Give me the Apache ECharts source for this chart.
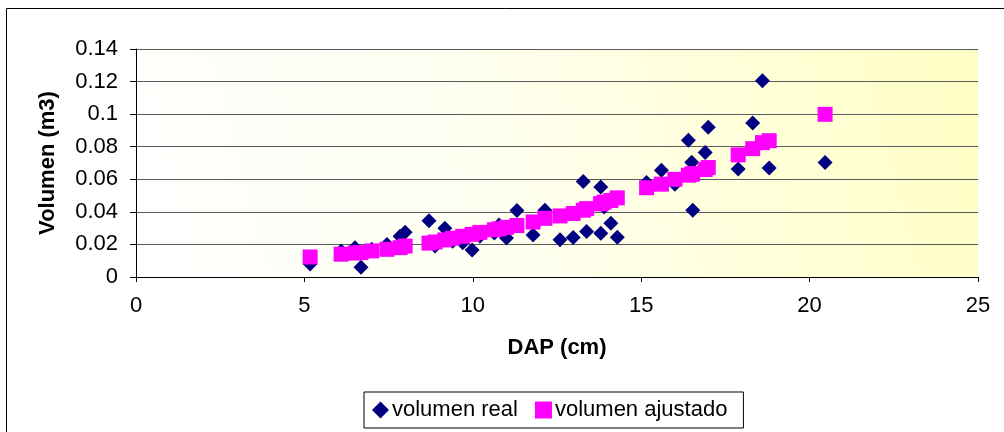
<!DOCTYPE html>
<html>
<head>
<meta charset="utf-8">
<script src="https://cdn.jsdelivr.net/npm/echarts@6/dist/echarts.min.js"></script>
<style>
  html, body { margin: 0; padding: 0; background: #fff; }
  #chart { width: 1004px; height: 432px; }
</style>
</head>
<body>
<div id="chart"></div>
<script>
// Diámetro a la altura del pecho (cm) de cada árbol medido
const dap = [
  5.17, 6.09, 6.50, 6.68, 7.00, 7.45, 7.84, 7.99,
  8.70, 8.88, 9.17, 9.40, 9.70, 9.98, 10.21, 10.64, 10.78, 11.00, 11.31, 11.79,
  12.14, 12.59, 12.98, 13.28, 13.38, 13.80, 13.80, 13.90, 14.10, 14.29,
  15.16, 15.60, 16.00, 16.40, 16.50, 16.53, 16.90, 16.99,
  17.88, 18.31, 18.60, 18.80, 20.46
];
// Volumen medido (m3)
const volumenReal = [
  0.008, 0.016, 0.018, 0.006, 0.017, 0.020, 0.025, 0.0275,
  0.0345, 0.019, 0.030, 0.022, 0.021, 0.0166, 0.025, 0.027, 0.032, 0.024, 0.0408, 0.0258,
  0.041, 0.0228, 0.0242, 0.0586, 0.0279, 0.0552, 0.0269, 0.043, 0.033, 0.0244,
  0.058, 0.0655, 0.057, 0.084, 0.0705, 0.041, 0.0765, 0.092,
  0.0663, 0.0946, 0.1205, 0.0669, 0.0703
];
// Volumen estimado por el modelo (m3)
const volumenAjustado = [
  0.0123, 0.0140, 0.0147, 0.0150, 0.0160, 0.0170, 0.0180, 0.0190,
  0.0208, 0.0215, 0.0228, 0.0238, 0.0250, 0.0262, 0.0274, 0.0290, 0.0296, 0.0305, 0.0316, 0.0338,
  0.0360, 0.0375, 0.0390, 0.0410, 0.0420, 0.0450, 0.0450, 0.0460, 0.0470, 0.0486,
  0.0548, 0.0570, 0.0600, 0.0625, 0.0630, 0.0635, 0.0660, 0.0672,
  0.0750, 0.0788, 0.0825, 0.0837, 0.0999
];
const xTicks = { min: 0, max: 25, step: 5 };
const yTicks = { min: 0, max: 0.14, step: 0.02 };

const realData = dap.map((d, i) => [d, volumenReal[i]]);
const ajusteData = dap.map((d, i) => [d, volumenAjustado[i]]);

const FONT = 'Arial, "Liberation Sans", sans-serif';
const chart = echarts.init(document.getElementById('chart'), null, { renderer: 'canvas' });

chart.setOption({
  backgroundColor: '#ffffff',
  animation: false,
  graphic: [{
    type: 'rect',
    silent: true,
    z: -10,
    shape: { x: 6.5, y: 8.5, width: 1200, height: 1000 },
    style: { fill: 'none', stroke: '#000000', lineWidth: 1 }
  }],
  grid: {
    left: 136, right: 26, top: 49, bottom: 155,
    show: true,
    borderWidth: 0,
    backgroundColor: new echarts.graphic.LinearGradient(0, 1, 1, 0, [
      { offset: 0, color: '#ffffff' },
      { offset: 0.4, color: '#fffff2' },
      { offset: 1, color: '#ffffc4' }
    ])
  },
  legend: {
    left: 364, top: 392,
    orient: 'horizontal',
    padding: [7, 16, 7, 8],
    borderColor: '#000000', borderWidth: 1,
    backgroundColor: '#ffffff',
    itemGap: 17,
    itemWidth: 17, itemHeight: 17,
    textStyle: { fontFamily: FONT, fontSize: 22, color: '#000', padding: [0, 0, 0, -2] },
    data: [
      { name: 'volumen real', icon: 'diamond' },
      { name: 'volumen ajustado', icon: 'rect' }
    ]
  },
  xAxis: {
    type: 'value',
    min: xTicks.min, max: xTicks.max, interval: xTicks.step,
    name: 'DAP (cm)',
    nameLocation: 'middle',
    nameGap: 60,
    nameTextStyle: { fontFamily: FONT, fontSize: 22, fontWeight: 'bold', color: '#000' },
    axisLine: { show: true, onZero: false, lineStyle: { color: '#000', width: 1 } },
    axisTick: { show: true, length: 5, lineStyle: { color: '#000' } },
    axisLabel: { fontFamily: FONT, fontSize: 22, color: '#000', margin: 18 },
    splitLine: { show: false }
  },
  yAxis: {
    type: 'value',
    min: yTicks.min, max: yTicks.max, interval: yTicks.step,
    name: 'Volumen (m3)',
    nameLocation: 'middle',
    nameGap: 77,
    nameRotate: 90,
    nameTextStyle: { fontFamily: FONT, fontSize: 22, fontWeight: 'bold', color: '#000' },
    axisLine: { show: true, lineStyle: { color: '#000', width: 1 } },
    axisTick: { show: true, length: 6, lineStyle: { color: '#000' } },
    axisLabel: {
      fontFamily: FONT, fontSize: 22, color: '#000', margin: 18,
      formatter: v => String(+v.toFixed(2))
    },
    splitLine: { show: true, lineStyle: { color: '#5a5a5a', width: 1 } }
  },
  series: [
    {
      name: 'volumen real',
      type: 'scatter',
      symbol: 'diamond',
      symbolSize: 15,
      itemStyle: { color: '#000080', opacity: 1 },
      data: realData,
      z: 2
    },
    {
      name: 'volumen ajustado',
      type: 'scatter',
      symbol: 'rect',
      symbolSize: 15,
      itemStyle: { color: '#ff00ff', opacity: 1 },
      data: ajusteData,
      z: 3
    }
  ]
});
</script>
</body>
</html>
